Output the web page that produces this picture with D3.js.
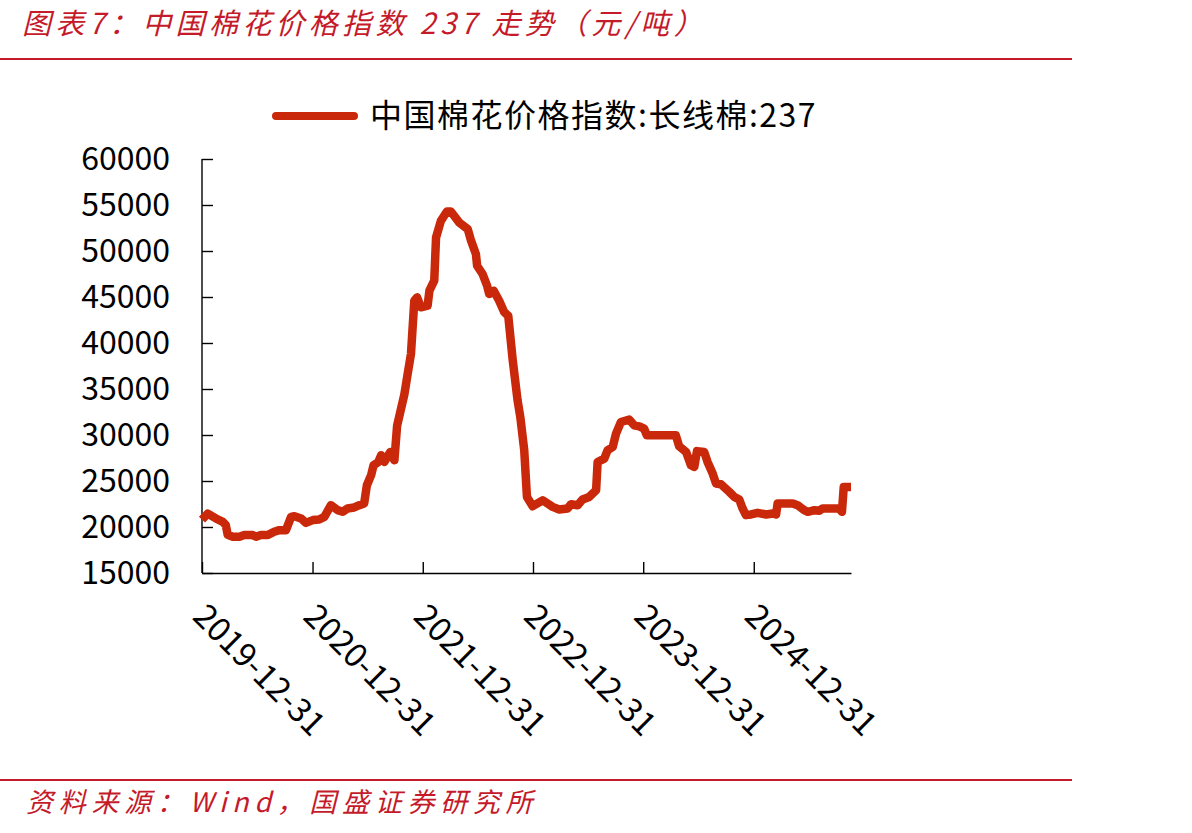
<!DOCTYPE html>
<html>
<head>
<meta charset="utf-8">
<script src="https://cdn.jsdelivr.net/npm/d3@7"></script>
<style>
  body { margin: 0; background: #fff; }
  svg { display: block; }
</style>
</head>
<body>
<div id="chart"></div>
<script>
const title = '图表7：中国棉花价格指数 237 走势（元/吨）';
const source = '资料来源：Wind，国盛证券研究所';
const seriesName = '中国棉花价格指数:长线棉:237';

const dates = [
  '2019-12-31', '2020-01-19', '2020-02-15', '2020-03-09', '2020-03-19', '2020-03-25', '2020-04-11', '2020-05-03',
  '2020-05-19', '2020-06-16', '2020-06-27', '2020-07-13', '2020-08-05', '2020-08-26', '2020-09-12', '2020-10-04',
  '2020-10-21', '2020-11-01', '2020-11-23', '2020-12-09', '2021-01-01', '2021-01-22', '2021-02-08', '2021-03-02',
  '2021-03-24', '2021-04-10', '2021-04-26', '2021-05-18', '2021-06-04', '2021-06-20', '2021-06-29', '2021-07-13',
  '2021-07-21', '2021-08-06', '2021-08-15', '2021-08-26', '2021-09-14', '2021-09-28', '2021-10-07', '2021-10-31',
  '2021-11-11', '2021-11-22', '2021-12-03', '2021-12-12', '2021-12-25', '2022-01-16', '2022-01-22', '2022-02-07',
  '2022-02-13', '2022-03-01', '2022-03-21', '2022-04-03', '2022-05-01', '2022-05-29', '2022-06-09', '2022-06-25',
  '2022-06-29', '2022-07-17', '2022-08-01', '2022-08-08', '2022-08-23', '2022-09-10', '2022-09-27', '2022-10-10',
  '2022-10-25', '2022-11-10', '2022-11-19', '2022-12-02', '2022-12-11', '2022-12-30', '2023-02-01', '2023-03-06',
  '2023-03-28', '2023-04-25', '2023-05-06', '2023-05-28', '2023-06-13', '2023-07-05', '2023-07-28', '2023-08-02',
  '2023-08-24', '2023-09-04', '2023-09-21', '2023-10-02', '2023-10-18', '2023-11-15', '2023-12-01', '2023-12-18',
  '2024-01-03', '2024-01-12', '2024-04-17', '2024-04-28', '2024-05-21', '2024-06-06', '2024-06-17', '2024-06-26',
  '2024-07-20', '2024-07-31', '2024-08-17', '2024-08-28', '2024-09-13', '2024-10-11', '2024-10-28', '2024-11-13',
  '2024-11-24', '2024-12-05', '2024-12-22', '2025-01-13', '2025-02-10', '2025-03-04', '2025-03-15', '2025-03-20',
  '2025-05-09', '2025-05-25', '2025-06-16', '2025-06-28', '2025-07-20', '2025-08-05', '2025-08-16', '2025-10-10',
  '2025-10-19', '2025-10-25', '2025-11-18'
];

const prices = [
  20800, 21450, 20930, 20560, 20200, 19150, 18940, 18940,
  19120, 19120, 18940, 19120, 19120, 19480, 19660, 19660,
  21100, 21180, 20930, 20450, 20750, 20820, 21100, 22370,
  21830, 21650, 22020, 22120, 22370, 22560, 24540, 25630,
  26710, 27070, 27800, 27070, 28150, 27250, 31000, 34400,
  36650, 38820, 44600, 44960, 43880, 44060, 45690, 46770,
  51470, 53280, 54290, 54290, 53090, 52380, 51110, 49660,
  48400, 47500, 46230, 45330, 45690, 44600, 43330, 42970,
  38100, 33760, 31950, 28340, 23270, 22260, 22900, 22190,
  21910, 22020, 22480, 22370, 22990, 23270, 24000, 27070,
  27430, 28340, 28700, 30150, 31410, 31670, 31050, 30940,
  30690, 29960, 29960, 28770, 28150, 26710, 26530, 28250,
  28150, 27070, 25810, 24730, 24650, 23820, 23270, 22990,
  22020, 21290, 21360, 21540, 21360, 21470, 21360, 22560,
  22560, 22370, 21830, 21650, 21830, 21760, 22020, 22020,
  21650, 24360, 24360
];

const yTicks = [15000, 20000, 25000, 30000, 35000, 40000, 45000, 50000, 55000, 60000];
const xTickLabels = ['2019-12-31', '2020-12-31', '2021-12-31', '2022-12-31', '2023-12-31', '2024-12-31'];

const W = 1192, H = 833;
const red = '#c41a2a';
const lineColor = '#c9280a';
const cjk = '"Noto Sans CJK SC", "Noto Sans", sans-serif';

const parse = d3.timeParse('%Y-%m-%d');
const data = dates.map((d, i) => ({ date: parse(d), value: prices[i] }));

const svg = d3.select('#chart').append('svg')
  .attr('width', W)
  .attr('height', H);

// header
svg.append('text')
  .attr('x', 22)
  .attr('y', 34)
  .style('font-family', cjk)
  .style('font-style', 'italic')
  .style('font-size', '29px')
  .style('letter-spacing', '4.3px')
  .style('fill', red)
  .text(title);

svg.append('line')
  .attr('x1', 0).attr('x2', 1072)
  .attr('y1', 59).attr('y2', 59)
  .style('stroke', red)
  .style('stroke-width', 2);

// footer
svg.append('line')
  .attr('x1', 0).attr('x2', 1072)
  .attr('y1', 780).attr('y2', 780)
  .style('stroke', red)
  .style('stroke-width', 2);

svg.append('text')
  .attr('x', 26)
  .attr('y', 812)
  .style('font-family', cjk)
  .style('font-style', 'italic')
  .style('font-size', '27px')
  .style('letter-spacing', '5.7px')
  .style('fill', red)
  .text(source);

// scales
const x = d3.scaleTime()
  .domain([parse('2019-12-31'), parse('2025-11-18')])
  .range([202, 851]);

const y = d3.scaleLinear()
  .domain([15000, 60000])
  .range([573, 159]);

// axes
svg.append('g')
  .attr('transform', 'translate(202,0)')
  .call(d3.axisLeft(y).tickValues(yTicks).tickFormat(d3.format('d')).tickSize(-11).tickSizeOuter(0).tickPadding(32))
  .call(g => g.select('.domain').attr('d', `M0,${y(60000)}V${y(15000)}`))
  .call(g => g.selectAll('line, path').style('stroke', '#000').style('stroke-width', 1.4))
  .call(g => g.selectAll('text')
    .style('font-family', cjk)
    .style('font-size', '32px')
    .style('fill', '#000'));

svg.append('g')
  .attr('transform', 'translate(0,573)')
  .call(d3.axisBottom(x).tickValues(xTickLabels.map(parse)).tickFormat(d3.timeFormat('%Y-%m-%d')).tickSize(-11).tickSizeOuter(0))
  .call(g => g.selectAll('line, path').style('stroke', '#000').style('stroke-width', 1.4))
  .call(g => g.selectAll('text')
    .attr('y', 0)
    .attr('dy', '0.35em')
    .attr('transform', 'translate(-3,37) rotate(45)')
    .style('text-anchor', 'start')
    .style('font-family', cjk)
    .style('font-size', '33px')
    .style('fill', '#000'));

// series
const line = d3.line()
  .x(d => x(d.date))
  .y(d => y(d.value));

svg.append('path')
  .datum(data)
  .attr('d', line)
  .style('fill', 'none')
  .style('stroke', lineColor)
  .style('stroke-width', 8.5)
  .style('stroke-linejoin', 'round')
  .style('stroke-linecap', 'butt');

// legend
const legend = svg.append('g')
  .attr('transform', 'translate(273,116)');

legend.append('line')
  .attr('x1', 3).attr('x2', 81)
  .attr('y1', 0).attr('y2', 0)
  .style('stroke', lineColor)
  .style('stroke-width', 8)
  .style('stroke-linecap', 'round');

legend.append('text')
  .attr('x', 97)
  .attr('y', 0)
  .attr('dy', '0.35em')
  .style('font-family', cjk)
  .style('font-size', '32px')
  .style('letter-spacing', '1.5px')
  .style('fill', '#000')
  .text(seriesName);
</script>
</body>
</html>
